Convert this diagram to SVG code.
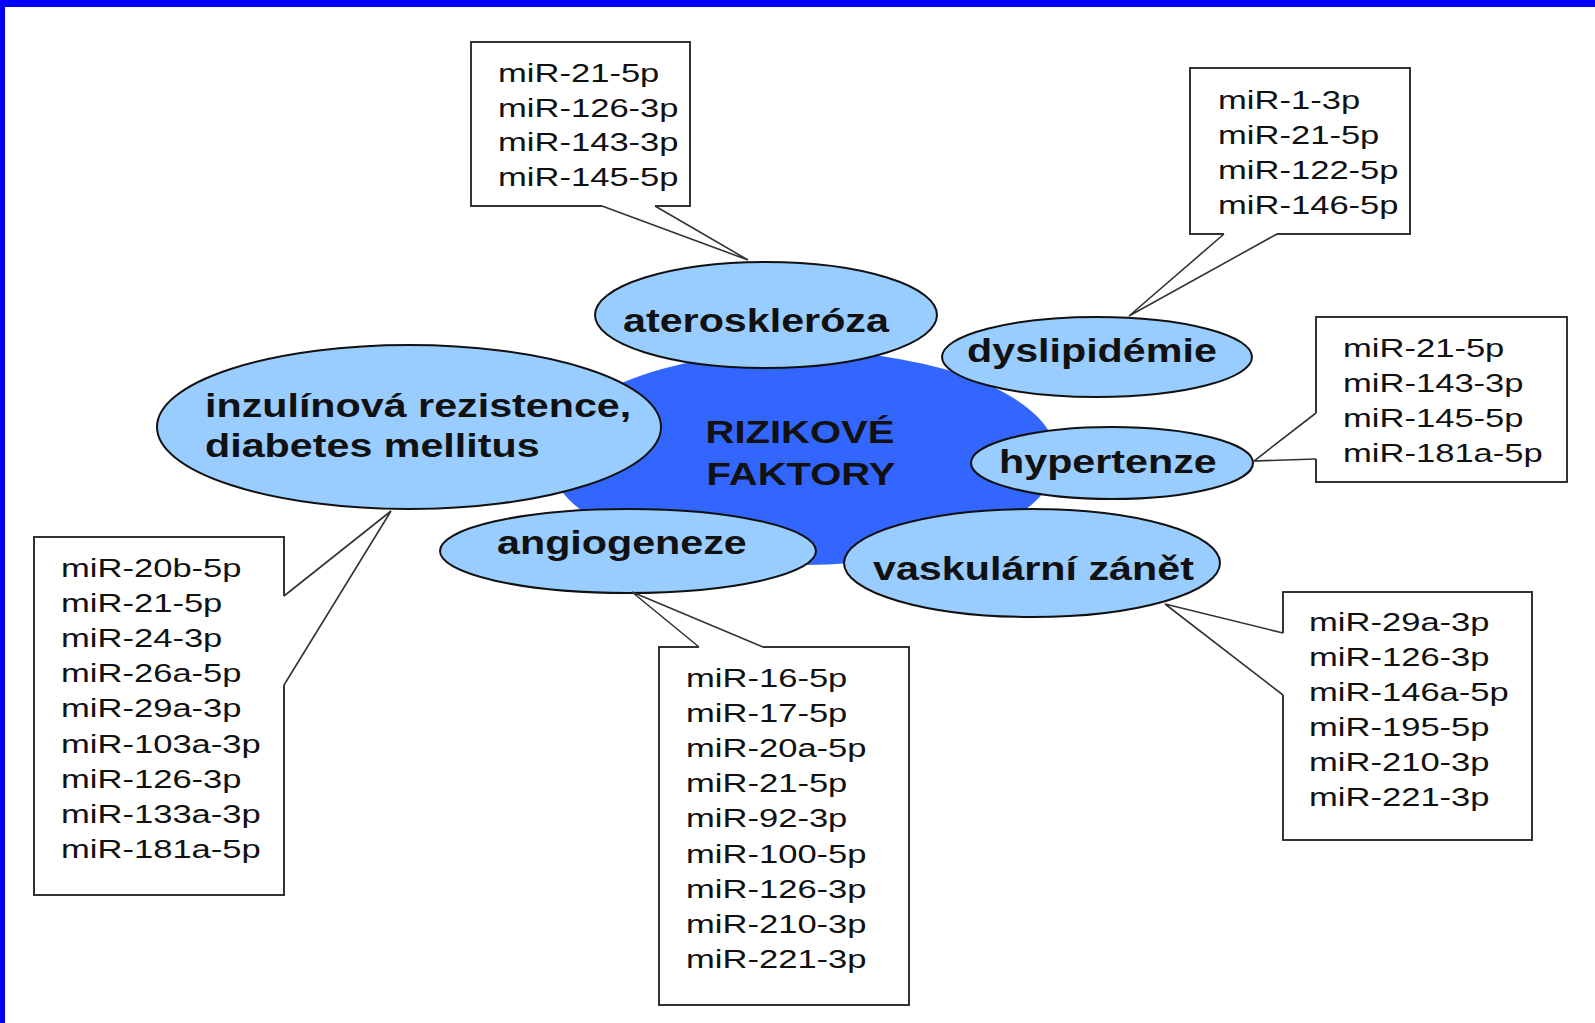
<svg xmlns="http://www.w3.org/2000/svg" width="1595" height="1023" viewBox="0 0 1595 1023">
<style>
.bg{fill:#ffffff}
.frame{fill:#0000ff}
.core{fill:#3366ff}
.ell{fill:#99ccff;stroke:#111111;stroke-width:2}
.box{fill:#ffffff;stroke:#333333;stroke-width:2;stroke-linejoin:miter}
.ptr{fill:#ffffff;stroke:#333333;stroke-width:1.6;stroke-linejoin:miter}
.b{font-family:"Liberation Sans",Arial,sans-serif;font-weight:bold;font-size:33px;fill:#111111}
.c{font-size:32px}
.m{font-family:"Liberation Sans",Arial,sans-serif;font-size:26px;fill:#111111}
</style>
<rect class="bg" x="0" y="0" width="1595" height="1023"/>
<rect class="frame" x="0" y="0" width="1595" height="7"/>
<rect class="frame" x="0" y="0" width="5" height="1023"/>

<g id="core">
<ellipse class="core" cx="803" cy="458" rx="254" ry="107"/>
<text class="b c" text-anchor="middle" transform="translate(800,443) scale(1.25,1)">RIZIKOVÉ</text>
<text class="b c" text-anchor="middle" transform="translate(801,485) scale(1.25,1)">FAKTORY</text>
</g>

<g id="ateroskleroza">
<ellipse class="ell" cx="766" cy="315" rx="171" ry="53"/>
<text class="b" transform="translate(623,332) scale(1.25,1)">ateroskleróza</text>
</g>
<g id="dyslipidemie">
<ellipse class="ell" cx="1097" cy="357" rx="155" ry="40"/>
<text class="b" transform="translate(967,362) scale(1.25,1)">dyslipidémie</text>
</g>
<g id="hypertenze">
<ellipse class="ell" cx="1112" cy="463" rx="141" ry="36"/>
<text class="b" transform="translate(999,473) scale(1.25,1)">hypertenze</text>
</g>
<g id="vaskularni-zanet">
<ellipse class="ell" cx="1032" cy="563" rx="188" ry="54"/>
<text class="b" transform="translate(873,580) scale(1.25,1)">vaskulární zánět</text>
</g>
<g id="angiogeneze">
<ellipse class="ell" cx="628" cy="551" rx="188" ry="42"/>
<text class="b" transform="translate(497,554) scale(1.25,1)">angiogeneze</text>
</g>
<g id="inzulinova-rezistence">
<ellipse class="ell" cx="409" cy="427" rx="252" ry="82"/>
<text class="b" transform="translate(205,417) scale(1.25,1)">inzulínová rezistence,</text>
<text class="b" transform="translate(205,457) scale(1.25,1)">diabetes mellitus</text>
</g>

<g id="box-ateroskleroza">
<path class="box" d="M655,206 H690 V42 H471 V206 H602"/>
<g transform="translate(498,0) scale(1.33,1)">
<text class="m" x="0" y="82">miR-21-5p</text>
<text class="m" x="0" y="117">miR-126-3p</text>
<text class="m" x="0" y="151">miR-143-3p</text>
<text class="m" x="0" y="186">miR-145-5p</text>
</g>
</g>

<g id="box-dyslipidemie">
<path class="box" d="M1277,234 H1410 V68 H1190 V234 H1224"/>
<g transform="translate(1218,0) scale(1.33,1)">
<text class="m" x="0" y="109">miR-1-3p</text>
<text class="m" x="0" y="144">miR-21-5p</text>
<text class="m" x="0" y="179">miR-122-5p</text>
<text class="m" x="0" y="214">miR-146-5p</text>
</g>
</g>

<g id="box-hypertenze">
<path class="box" d="M1316,413 V317 H1567 V482 H1316 V459"/>
<g transform="translate(1343,0) scale(1.33,1)">
<text class="m" x="0" y="357">miR-21-5p</text>
<text class="m" x="0" y="392">miR-143-3p</text>
<text class="m" x="0" y="427">miR-145-5p</text>
<text class="m" x="0" y="462">miR-181a-5p</text>
</g>
</g>

<g id="box-inzulinova-rezistence">
<path class="box" d="M284,685 V895 H34 V537 H284 V596"/>
<g transform="translate(61,0) scale(1.33,1)">
<text class="m" x="0" y="577">miR-20b-5p</text>
<text class="m" x="0" y="612">miR-21-5p</text>
<text class="m" x="0" y="647">miR-24-3p</text>
<text class="m" x="0" y="682">miR-26a-5p</text>
<text class="m" x="0" y="717">miR-29a-3p</text>
<text class="m" x="0" y="753">miR-103a-3p</text>
<text class="m" x="0" y="788">miR-126-3p</text>
<text class="m" x="0" y="823">miR-133a-3p</text>
<text class="m" x="0" y="858">miR-181a-5p</text>
</g>
</g>

<g id="box-angiogeneze">
<path class="box" d="M763,647 H909 V1005 H659 V647 H699"/>
<g transform="translate(686,0) scale(1.33,1)">
<text class="m" x="0" y="687">miR-16-5p</text>
<text class="m" x="0" y="722">miR-17-5p</text>
<text class="m" x="0" y="757">miR-20a-5p</text>
<text class="m" x="0" y="792">miR-21-5p</text>
<text class="m" x="0" y="827">miR-92-3p</text>
<text class="m" x="0" y="863">miR-100-5p</text>
<text class="m" x="0" y="898">miR-126-3p</text>
<text class="m" x="0" y="933">miR-210-3p</text>
<text class="m" x="0" y="968">miR-221-3p</text>
</g>
</g>

<g id="box-vaskularni-zanet">
<path class="box" d="M1283,695 V840 H1532 V592 H1283 V633"/>
<g transform="translate(1309,0) scale(1.33,1)">
<text class="m" x="0" y="631">miR-29a-3p</text>
<text class="m" x="0" y="666">miR-126-3p</text>
<text class="m" x="0" y="701">miR-146a-5p</text>
<text class="m" x="0" y="736">miR-195-5p</text>
<text class="m" x="0" y="771">miR-210-3p</text>
<text class="m" x="0" y="806">miR-221-3p</text>
</g>
</g>

<g id="connectors">
<path class="ptr" d="M602,206 L748,260 L655,206"/>
<path class="ptr" d="M1224,234 L1129,316 L1277,234"/>
<path class="ptr" d="M1316,413 L1254,461 L1316,459"/>
<path class="ptr" d="M284,596 L391,511 L284,685"/>
<path class="ptr" d="M699,647 L632,592 L763,647"/>
<path class="ptr" d="M1283,633 L1165,604 L1283,695"/>
</g>
</svg>
